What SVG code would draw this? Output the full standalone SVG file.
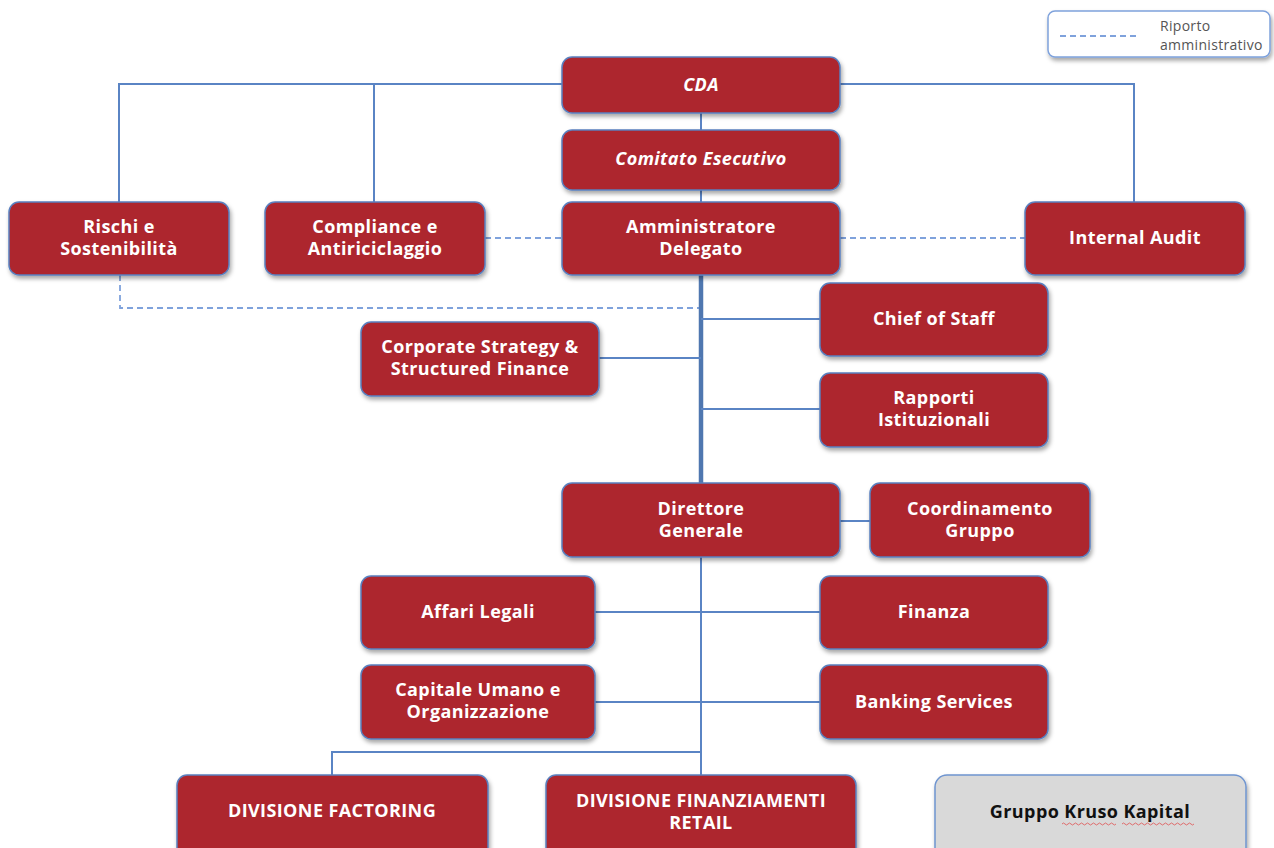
<svg xmlns="http://www.w3.org/2000/svg" width="1274" height="848" viewBox="0 0 1274 848">
<defs>
<filter id="sh" x="-10%" y="-10%" width="125%" height="135%">
<feDropShadow dx="1.5" dy="3" stdDeviation="2" flood-color="#000" flood-opacity="0.35"/>
</filter>
<style>
.n{fill:#ad252f;stroke:#5a80bf;stroke-width:1.5;filter:url(#sh)}
.g{fill:#d9d9d9;stroke:#6f95d0;stroke-width:1.5;filter:url(#sh)}
.t{font-family:"Open Sans","Noto Sans",sans-serif;font-weight:700;font-size:18px;letter-spacing:0.4px;fill:#fff;text-anchor:middle}
.i{font-style:italic}
.c{fill:none;stroke:#5a84c4;stroke-width:2}
.trunk{fill:none;stroke:#4f77b0;stroke-width:4.5}
.d{fill:none;stroke:#7fa2dc;stroke-width:1.8;stroke-dasharray:6 4}
.lg{font-family:"Open Sans",sans-serif;font-size:14px;letter-spacing:0.3px;fill:#555}
.sq{fill:none;stroke:#e05050;stroke-width:0.8}
</style>
</defs>
<rect width="1274" height="848" fill="#fff"/>

<g id="legend">
<rect x="1048" y="11" width="222" height="46" rx="7" fill="#fff" stroke="#7fa2dc" stroke-width="1.5" filter="url(#sh)"/>
<line x1="1060" y1="36" x2="1140" y2="36" class="d"/>
<text x="1160" y="31" class="lg">Riporto</text>
<text x="1160" y="50" class="lg">amministrativo</text>
</g>

<g id="connectors">
<polyline class="c" points="119,203 119,84 562,84"/>
<line class="c" x1="374" y1="84" x2="374" y2="203"/>
<polyline class="c" points="840,84 1134,84 1134,203"/>
<line class="c" x1="701" y1="113" x2="701" y2="130"/>
<line class="c" x1="701" y1="190" x2="701" y2="202"/>
<line class="d" x1="485" y1="238" x2="562" y2="238"/>
<line class="d" x1="840" y1="238" x2="1025" y2="238"/>
<polyline class="d" points="120,275 120,308 699,308"/>
<line class="trunk" x1="701" y1="275" x2="701" y2="483"/>
<line class="c" x1="701" y1="319" x2="820" y2="319"/>
<line class="c" x1="599" y1="358" x2="701" y2="358"/>
<line class="c" x1="701" y1="409" x2="820" y2="409"/>
<line class="c" x1="840" y1="521" x2="870" y2="521"/>
<line class="c" x1="701" y1="557" x2="701" y2="775" stroke-width="3"/>
<line class="c" x1="595" y1="612" x2="820" y2="612"/>
<line class="c" x1="595" y1="702" x2="820" y2="702"/>
<polyline class="c" points="701,752 332,752 332,775"/>
</g>

<g id="cda"><rect class="n" x="562" y="57" width="278" height="56" rx="10"/><text class="t i" x="701" y="91">CDA</text></g>
<g id="comitato"><rect class="n" x="562" y="130" width="278" height="60" rx="10"/><text class="t i" x="701" y="165">Comitato Esecutivo</text></g>
<g id="ad"><rect class="n" x="562" y="202" width="278" height="73" rx="10"/><text class="t" x="701" y="233">Amministratore</text><text class="t" x="701" y="255">Delegato</text></g>
<g id="rischi"><rect class="n" x="9" y="202" width="220" height="73" rx="10"/><text class="t" x="119" y="233">Rischi e</text><text class="t" x="119" y="255">Sostenibilità</text></g>
<g id="compliance"><rect class="n" x="265" y="202" width="220" height="73" rx="10"/><text class="t" x="375" y="233">Compliance e</text><text class="t" x="375" y="255">Antiriciclaggio</text></g>
<g id="audit"><rect class="n" x="1025" y="202" width="220" height="73" rx="10"/><text class="t" x="1135" y="244">Internal Audit</text></g>
<g id="chief"><rect class="n" x="820" y="283" width="228" height="73" rx="10"/><text class="t" x="934" y="325">Chief of Staff</text></g>
<g id="corporate"><rect class="n" x="361" y="322" width="238" height="74" rx="10"/><text class="t" x="480" y="353">Corporate Strategy &amp;</text><text class="t" x="480" y="375">Structured Finance</text></g>
<g id="rapporti"><rect class="n" x="820" y="373" width="228" height="74" rx="10"/><text class="t" x="934" y="404">Rapporti</text><text class="t" x="934" y="426">Istituzionali</text></g>
<g id="dg"><rect class="n" x="562" y="483" width="278" height="74" rx="10"/><text class="t" x="701" y="515">Direttore</text><text class="t" x="701" y="537">Generale</text></g>
<g id="coordinamento"><rect class="n" x="870" y="483" width="220" height="74" rx="10"/><text class="t" x="980" y="515">Coordinamento</text><text class="t" x="980" y="537">Gruppo</text></g>
<g id="affari"><rect class="n" x="361" y="576" width="234" height="73" rx="10"/><text class="t" x="478" y="618">Affari Legali</text></g>
<g id="finanza"><rect class="n" x="820" y="576" width="228" height="73" rx="10"/><text class="t" x="934" y="618">Finanza</text></g>
<g id="capitale"><rect class="n" x="361" y="665" width="234" height="74" rx="10"/><text class="t" x="478" y="696">Capitale Umano e</text><text class="t" x="478" y="718">Organizzazione</text></g>
<g id="banking"><rect class="n" x="820" y="665" width="228" height="74" rx="10"/><text class="t" x="934" y="708">Banking Services</text></g>
<g id="factoring"><rect class="n" x="177" y="775" width="311" height="90" rx="10"/><text class="t" x="332" y="817">DIVISIONE FACTORING</text></g>
<g id="retail"><rect class="n" x="546" y="775" width="310" height="90" rx="10"/><text class="t" x="701" y="807">DIVISIONE FINANZIAMENTI</text><text class="t" x="701" y="829">RETAIL</text></g>
<g id="kruso"><rect class="g" x="935" y="775" width="311" height="90" rx="12"/><text class="t" x="1090" y="818" style="fill:#111">Gruppo Kruso Kapital</text>
<path class="sq" d="M1062,824 q1.5,-2 3,0 t3,0 t3,0 t3,0 t3,0 t3,0 t3,0 t3,0 t3,0 t3,0 t3,0 t3,0 t3,0 t3,0 t3,0 t3,0 t3,0 t3,0"/>
<path class="sq" d="M1122,824 q1.5,-2 3,0 t3,0 t3,0 t3,0 t3,0 t3,0 t3,0 t3,0 t3,0 t3,0 t3,0 t3,0 t3,0 t3,0 t3,0 t3,0 t3,0 t3,0 t3,0 t3,0 t3,0 t3,0 t3,0 t3,0"/>
</g>
</svg>
